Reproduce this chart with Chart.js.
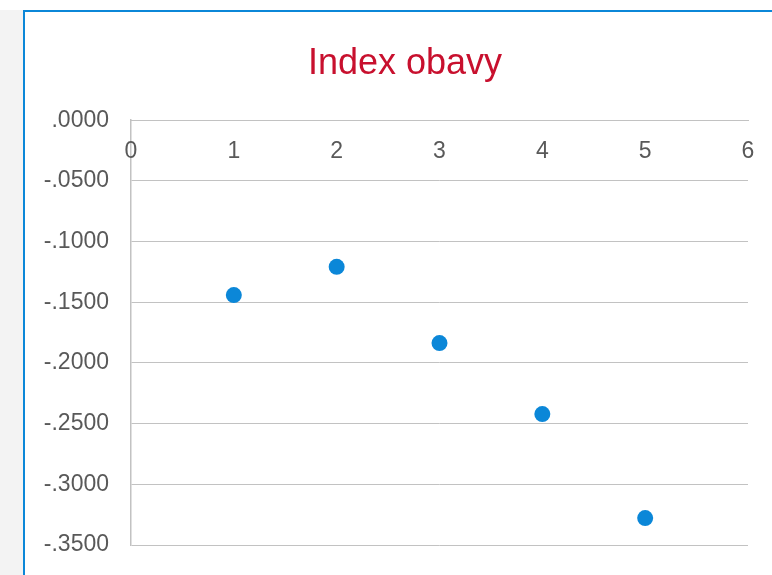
<!DOCTYPE html>
<html>
<head>
<meta charset="utf-8">
<script src="https://cdn.jsdelivr.net/npm/chart.js@4"></script>
<style>
  html, body { margin: 0; padding: 0; background: #ffffff; }
  #wrap { position: relative; width: 772px; height: 575px; overflow: hidden; }
  #strip { position: absolute; left: 0; top: 10px; width: 23px; height: 565px; background: #f3f3f3; }
  #frame { position: absolute; left: 23px; top: 10px; width: 760px; height: 600px;
           border-left: 2px solid #0b87d8; border-top: 2px solid #0b87d8; box-sizing: border-box; }
  canvas { position: absolute; left: 0; top: 0; }
</style>
</head>
<body>
<div id="wrap">
  <div id="strip"></div>
  <div id="frame"></div>
  <canvas id="chart" width="772" height="575"></canvas>
</div>
<script>
const title = "Index obavy";
const xValues = [1, 2, 3, 4, 5];
const indexValues = [-0.1441, -0.1208, -0.1836, -0.2421, -0.3278];

const points = xValues.map((x, i) => ({ x: x, y: indexValues[i] }));

const gridColor = "#c2c2c2";
const textColor = "#595959";

// ".0000", "-.0500" style labels
function fmt(v) {
  return v.toFixed(4).replace("0.", ".");
}

// the title is centred on the framed panel, not on the whole canvas
const shiftTitle = {
  id: "shiftTitle",
  afterLayout(chart) {
    if (chart.titleBlock) chart.titleBlock.left = 62;
  },
};

const ctx = document.getElementById("chart").getContext("2d");
new Chart(ctx, {
  type: "scatter",
  data: {
    datasets: [
      {
        data: points,
        backgroundColor: "#0b87d8",
        borderWidth: 0,
        pointRadius: 8,
        pointHoverRadius: 8,
      },
    ],
  },
  plugins: [shiftTitle],
  options: {
    responsive: false,
    animation: false,
    layout: { padding: { left: 0, right: 24, top: 0, bottom: 30 } },
    font: { family: "'Liberation Sans', Arial, sans-serif" },
    plugins: {
      legend: { display: false },
      tooltip: { enabled: false },
      title: {
        display: true,
        text: title,
        color: "#c8102e",
        font: { family: "'Liberation Sans', Arial, sans-serif", size: 36, weight: "normal" },
        padding: { top: 42, bottom: 35 },
      },
    },
    scales: {
      y: {
        min: -0.35,
        max: 0,
        afterFit: (scale) => {
          scale.width = 131;
          scale.paddingTop = 0;
          scale.paddingBottom = 0;
        },
        ticks: {
          stepSize: 0.05,
          padding: 22,
          color: textColor,
          font: { family: "'Liberation Sans', Arial, sans-serif", size: 23 },
          callback: (v) => fmt(v),
        },
        grid: { color: gridColor, lineWidth: 1, drawTicks: false },
        border: { color: gridColor, width: 1.5 },
      },
      x: {
        type: "linear",
        position: { y: 0 },
        min: 0,
        max: 6,
        afterFit: (scale) => {
          scale.paddingLeft = 0;
          scale.paddingRight = 0;
        },
        ticks: {
          stepSize: 1,
          padding: 18,
          color: textColor,
          font: { family: "'Liberation Sans', Arial, sans-serif", size: 23 },
        },
        grid: { display: false, drawTicks: false },
        border: { color: gridColor, width: 1 },
      },
    },
  },
});
</script>
</body>
</html>
